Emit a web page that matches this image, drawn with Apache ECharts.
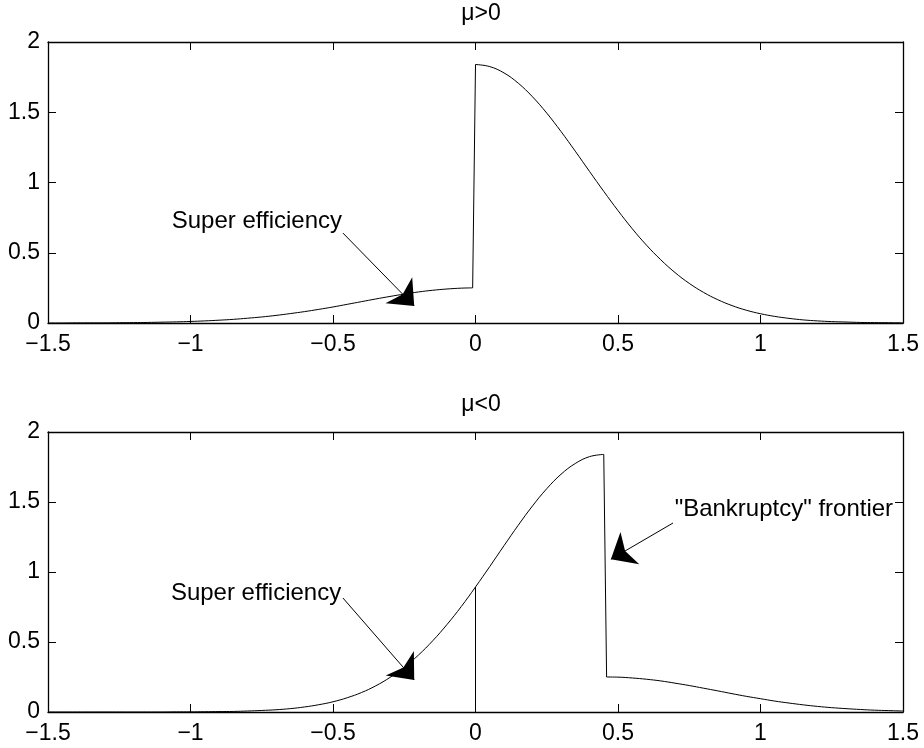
<!DOCTYPE html>
<html>
<head>
<meta charset="utf-8">
<script src="https://cdn.jsdelivr.net/npm/echarts@6/dist/echarts.min.js"></script>
<style>
  html, body { margin: 0; padding: 0; background: #fff; }
  #chart { width: 924px; height: 748px; }
</style>
</head>
<body>
<div id="chart"></div>
<script>
// 上图 mu>0：左段、右段
var topLeftX = [-1.5, -1.45, -1.4, -1.35, -1.3, -1.25, -1.2, -1.15, -1.1, -1.05,
    -1.0, -0.95, -0.9, -0.85, -0.8, -0.75, -0.7, -0.65, -0.6, -0.55,
    -0.5, -0.45, -0.4, -0.35, -0.3, -0.25, -0.2, -0.15, -0.1, -0.05, -0.01];
var topLeftY = [0.000, 0.000, 0.001, 0.001, 0.001, 0.002, 0.003, 0.004, 0.006, 0.008,
    0.011, 0.015, 0.020, 0.026, 0.034, 0.043, 0.054, 0.067, 0.081, 0.097,
    0.114, 0.133, 0.152, 0.171, 0.189, 0.206, 0.221, 0.233, 0.242, 0.248, 0.250];
var topRightX = [0, 0.05, 0.1, 0.15, 0.2, 0.25, 0.3, 0.35, 0.4, 0.45,
    0.5, 0.55, 0.6, 0.65, 0.7, 0.75, 0.8, 0.85, 0.9, 0.95,
    1.0, 1.05, 1.1, 1.15, 1.2, 1.25, 1.3, 1.35, 1.4, 1.45, 1.5];
var topRightY = [1.840, 1.825, 1.780, 1.707, 1.610, 1.494, 1.363, 1.223, 1.079, 0.937,
    0.800, 0.671, 0.554, 0.450, 0.359, 0.282, 0.218, 0.166, 0.124, 0.091,
    0.066, 0.047, 0.033, 0.022, 0.015, 0.010, 0.007, 0.004, 0.003, 0.002, 0.001];

// 下图 mu<0：左段、右段
var botLeftX = [-1.5, -1.45, -1.4, -1.35, -1.3, -1.25, -1.2, -1.15, -1.1, -1.05,
    -1.0, -0.95, -0.9, -0.85, -0.8, -0.75, -0.7, -0.65, -0.6, -0.55,
    -0.5, -0.45, -0.4, -0.35, -0.3, -0.25, -0.2, -0.15, -0.1, -0.05,
    0, 0.05, 0.1, 0.15, 0.2, 0.25, 0.3, 0.35, 0.4, 0.45];
var botLeftY = [0.000, 0.000, 0.000, 0.000, 0.000, 0.000, 0.000, 0.000, 0.000, 0.001,
    0.001, 0.002, 0.003, 0.004, 0.007, 0.011, 0.016, 0.024, 0.036, 0.052,
    0.073, 0.102, 0.139, 0.187, 0.247, 0.320, 0.407, 0.509, 0.625, 0.753,
    0.893, 1.039, 1.188, 1.334, 1.472, 1.595, 1.698, 1.775, 1.824, 1.840];
var botRightX = [0.46, 0.5, 0.55, 0.6, 0.65, 0.7, 0.75, 0.8, 0.85, 0.9, 0.95,
    1.0, 1.05, 1.1, 1.15, 1.2, 1.25, 1.3, 1.35, 1.4, 1.45, 1.5];
var botRightY = [0.250, 0.249, 0.243, 0.234, 0.222, 0.206, 0.189, 0.170, 0.151, 0.131, 0.112,
    0.095, 0.078, 0.064, 0.051, 0.040, 0.031, 0.024, 0.018, 0.013, 0.010, 0.007];

// x=0 处的竖线
var zeroLineX = [0, 0];
var zeroLineY = [0, 0.893];

var xTicks = [-1.5, -1, -0.5, 0, 0.5, 1, 1.5];
var yTicks = [0, 0.5, 1, 1.5, 2];

var titles = ['\u03bc>0', '\u03bc<0'];

var FONT = '"Liberation Sans", Arial, Helvetica, sans-serif';
var FS = 23;
var NOTE_FS = 24;

function pairs(xs, ys) {
    return xs.map(function (x, i) { return [x, ys[i]]; });
}
function last(xs, ys) {
    return [xs[xs.length - 1], ys[ys.length - 1]];
}
function minus(v) {
    return String(v).replace('-', '\u2212');
}

function xAxisOf(grid, pos, labels) {
    return {
        type: 'value', gridIndex: grid, position: pos,
        min: xTicks[0], max: xTicks[xTicks.length - 1], interval: 0.5,
        axisLine: { show: true, onZero: false, lineStyle: { color: '#000', width: 1.3 } },
        axisTick: { show: true, inside: true, length: 8, lineStyle: { color: '#000', width: 1 } },
        axisLabel: { show: labels, margin: 10, color: '#000', fontSize: FS, fontFamily: FONT, formatter: minus },
        splitLine: { show: false }
    };
}
function yAxisOf(grid, pos, labels) {
    return {
        type: 'value', gridIndex: grid, position: pos,
        min: yTicks[0], max: yTicks[yTicks.length - 1], interval: 0.5,
        axisLine: { show: true, onZero: false, lineStyle: { color: '#000', width: 1.3 } },
        axisTick: { show: true, inside: true, length: 8, lineStyle: { color: '#000', width: 1 } },
        axisLabel: { show: labels, margin: 8, color: '#000', fontSize: FS, fontFamily: FONT, formatter: minus },
        splitLine: { show: false }
    };
}

// 箭头：终点即箭头尖
function arrow(from, to) {
    return [
        { coord: from, symbol: 'none' },
        { coord: to, symbol: 'arrow', symbolSize: [28, 22] }
    ];
}
function note(text, at) {
    return { name: text, coord: at };
}

var lineStyle = { color: '#000', width: 1 };
function markLineCfg(data) {
    return {
        silent: true, animation: false,
        symbol: ['none', 'arrow'],
        lineStyle: { color: '#000', width: 1, type: 'solid' },
        itemStyle: { color: '#000' },
        label: { show: false },
        emphasis: { disabled: true },
        data: data
    };
}
function markPointCfg(data) {
    return {
        silent: true, animation: false,
        symbol: 'circle', symbolSize: 1,
        itemStyle: { color: 'rgba(0,0,0,0)' },
        label: { show: true, position: 'inside', color: '#000', fontSize: NOTE_FS, fontFamily: FONT,
            formatter: function (p) { return p.name; } },
        data: data
    };
}
function curve(xi, data, smooth, extra) {
    var s = {
        type: 'line', xAxisIndex: xi, yAxisIndex: xi,
        data: data, showSymbol: false, smooth: smooth, lineStyle: lineStyle
    };
    for (var k in (extra || {})) s[k] = extra[k];
    return s;
}

var chart = echarts.init(document.getElementById('chart'), null, { renderer: 'canvas' });
chart.setOption({
    animation: false,
    backgroundColor: '#fff',
    title: [
        { text: titles[0], left: 476, top: -3, textAlign: 'center',
          textStyle: { fontSize: FS, fontWeight: 'normal', color: '#000', fontFamily: FONT } },
        { text: titles[1], left: 476, top: 388, textAlign: 'center',
          textStyle: { fontSize: FS, fontWeight: 'normal', color: '#000', fontFamily: FONT } }
    ],
    grid: [
        { left: 48, right: 21, top: 42, height: 281, outerBoundsMode: 'none' },
        { left: 48, right: 21, top: 432, height: 280, outerBoundsMode: 'none' }
    ],
    xAxis: [
        xAxisOf(0, 'bottom', true), xAxisOf(0, 'top', false),
        xAxisOf(1, 'bottom', true), xAxisOf(1, 'top', false)
    ],
    yAxis: [
        yAxisOf(0, 'left', true), yAxisOf(0, 'right', false),
        yAxisOf(1, 'left', true), yAxisOf(1, 'right', false)
    ],
    series: [
        curve(0, pairs(topLeftX, topLeftY), 0.4, {
            markLine: markLineCfg([arrow([-0.465, 0.64], [-0.215, 0.121])]),
            markPoint: markPointCfg([note('Super efficiency', [-0.767, 0.726])])
        }),
        curve(0, [last(topLeftX, topLeftY), [topRightX[0], topRightY[0]]], false),
        curve(0, pairs(topRightX, topRightY), 0.4),

        curve(2, pairs(botLeftX, botLeftY), 0.4, {
            markLine: markLineCfg([
                arrow([-0.465, 0.814], [-0.215, 0.229]),
                arrow([0.693, 1.35], [0.475, 1.091])
            ]),
            markPoint: markPointCfg([
                note('Super efficiency', [-0.77, 0.845]),
                note('"Bankruptcy" frontier', [1.082, 1.447])
            ])
        }),
        curve(2, [last(botLeftX, botLeftY), [botRightX[0], botRightY[0]]], false),
        curve(2, pairs(botRightX, botRightY), 0.4),
        curve(2, pairs(zeroLineX, zeroLineY), false)
    ]
});
</script>
</body>
</html>
